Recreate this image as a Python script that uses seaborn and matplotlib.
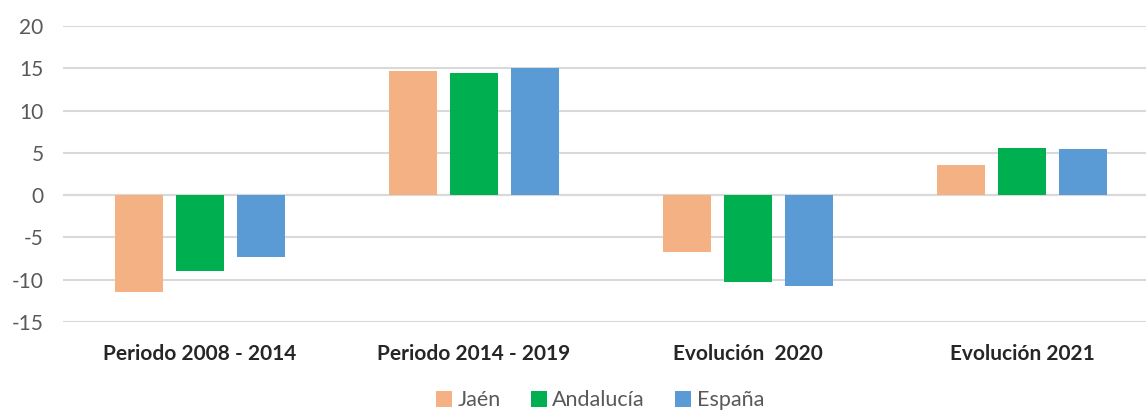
import pandas as pd
import matplotlib.pyplot as plt
import seaborn as sns

# datos
periodos = ['Periodo 2008 - 2014', 'Periodo 2014 - 2019', 'Evolución  2020', 'Evolución 2021']
jaen = [-11.5, 14.7, -6.7, 3.6]
andalucia = [-9.0, 14.5, -10.3, 5.6]
espana = [-7.3, 15.0, -10.8, 5.5]
territorios = ['Jaén', 'Andalucía', 'España']
colores = ['#F4B183', '#00B050', '#5B9BD5']

df = pd.DataFrame({
    'periodo': periodos * 3,
    'valor': jaen + andalucia + espana,
    'territorio': [t for t in territorios for _ in periodos],
})

sns.set_style('white')
plt.rcParams['font.family'] = ['Lato', 'DejaVu Sans']
plt.rcParams['axes.unicode_minus'] = False

fig = plt.figure(figsize=(11.46, 4.12), dpi=100)
ax = fig.add_axes([63 / 1146, 1 - 322 / 412, 1096 / 1146, 296 / 412])

sns.barplot(data=df, x='periodo', y='valor', hue='territorio',
            hue_order=territorios, palette=colores, order=periodos,
            saturation=1, width=0.67, gap=0.21, linewidth=0, ax=ax, legend=True)

ax.set_ylim(-15, 20)
ax.set_xlim(-0.5, 3.5)
ax.set_yticks(range(-15, 21, 5))
ax.yaxis.grid(True, color='#d9d9d9', linewidth=1.5)
ax.set_axisbelow(True)
for s in ax.spines.values():
    s.set_visible(False)
ax.axhline(0, color='#d9d9d9', linewidth=1.5, zorder=0)

ax.set_xlabel('')
ax.set_ylabel('')
ax.tick_params(axis='y', labelsize=15, labelcolor='#595959', length=0, pad=14)
ax.tick_params(axis='x', labelsize=15, length=0, pad=16)
for lbl in ax.get_xticklabels():
    lbl.set_fontweight('bold')

ax.legend(loc='center', bbox_to_anchor=(0.49, -0.265),
          bbox_transform=ax.transAxes, ncol=3, frameon=False, fontsize=15.5,
          handlelength=0.75, handleheight=0.75, handletextpad=0.25, columnspacing=1.4,
          labelcolor='#595959', borderaxespad=0, borderpad=0)

plt.savefig('out.png', dpi=100)
plt.close()
